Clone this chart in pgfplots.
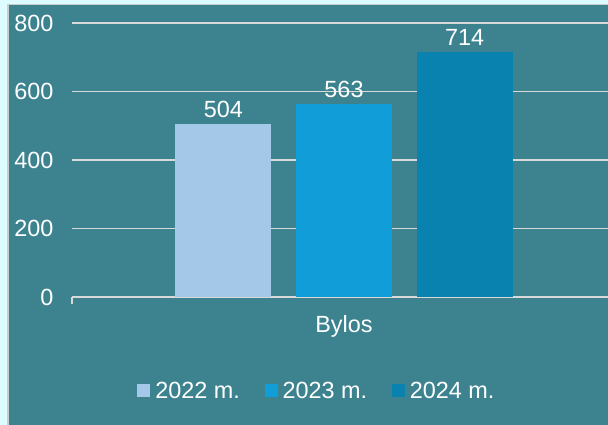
\documentclass[border=0pt]{standalone}
\usepackage{fontspec}
\setmainfont{Liberation Sans}
\usepackage{pgfplots}
\pgfplotsset{compat=1.18}
\definecolor{cyanbg}{RGB}{220,252,255}
\definecolor{panel}{RGB}{61,131,143}
\definecolor{bordergray}{RGB}{200,205,205}
\definecolor{gridgray}{RGB}{217,217,217}
\definecolor{cA}{RGB}{163,200,232}
\definecolor{cB}{RGB}{17,158,216}
\definecolor{cC}{RGB}{10,130,176}
\newcommand{\bigfont}{\fontsize{23.5}{27}\selectfont}
\begin{document}
\begin{tikzpicture}
\useasboundingbox (0,0) rectangle (608bp,425bp);
\fill[cyanbg] (0,0) rectangle (608bp,425bp);
\fill[panel] (7.5bp,0) rectangle (610bp,420.5bp);
\draw[bordergray, line width=1.5bp] (7.75bp,-2bp) -- (7.75bp,420.25bp) -- (612bp,420.25bp);
\begin{axis}[
  at={(72bp,128bp)}, anchor=south west,
  scale only axis, width=536bp, height=274bp,
  xmin=-1, xmax=0.9706, ymin=0, ymax=800,
  ybar=24.7bp, bar width=96bp,
  axis line style={draw=none},
  ytick={0,200,400,600,800},
  ytick style={draw=none},
  ymajorgrids, major grid style={gridgray, line width=1.3bp},
  xtick={-1}, xticklabels={}, xtick pos=lower,
  xtick style={draw=gridgray, line width=1.3bp},
  tick align=outside, major tick length=7bp,
  extra x ticks={0}, extra x tick labels={Bylos},
  extra x tick style={major tick length=0pt},
  xticklabel style={yshift=-15bp},
  yticklabel style={xshift=-8bp},
  ticklabel style={font=\bigfont, text=white},
  /pgf/number format/assume math mode=true,
  nodes near coords,
  every node near coord/.append style={font=\bigfont, text=white, yshift=3bp},
  legend style={at={(0.457,-0.343)}, anchor=center, draw=none, fill=none,
    font=\bigfont, text=white, inner sep=0pt,
    /tikz/every odd column/.style={column sep=3bp},
    /tikz/every even column/.style={column sep=22.7bp}},
  legend columns=3,
  legend image code/.code={\fill[#1] (0bp,-6.5bp) rectangle (13bp,6.5bp);},
]
\addplot[fill=cA, draw=none] coordinates {(0,504)};
\addplot[fill=cB, draw=none] coordinates {(0,563)};
\addplot[fill=cC, draw=none] coordinates {(0,714)};
\legend{2022 m.,2023 m.,2024 m.}
\end{axis}
\end{tikzpicture}
\end{document}
